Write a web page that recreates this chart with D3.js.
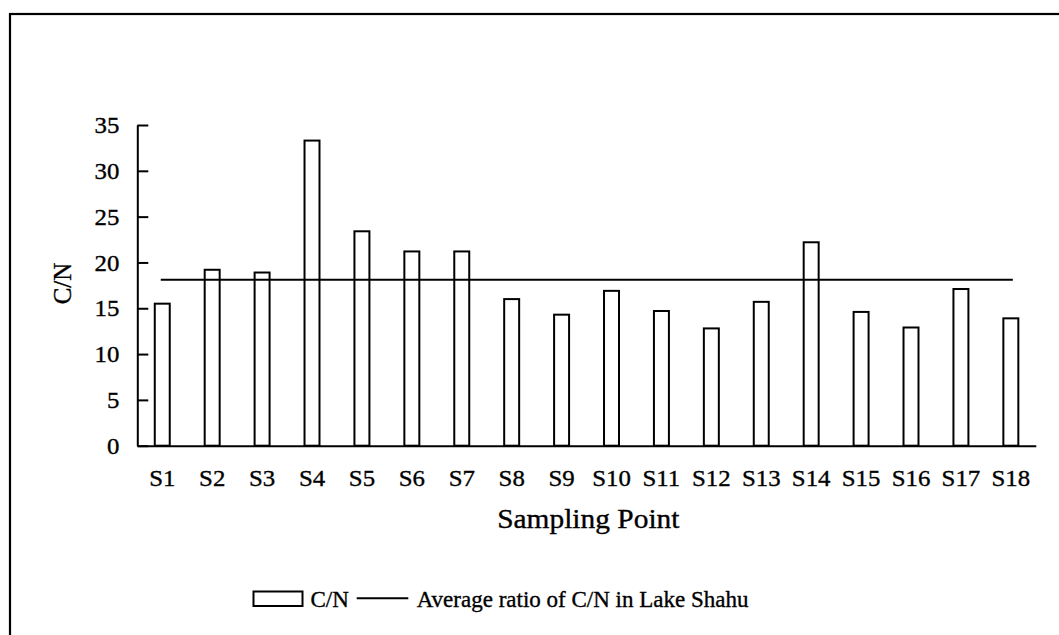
<!DOCTYPE html>
<html>
<head>
<meta charset="utf-8">
<script src="https://cdn.jsdelivr.net/npm/d3@7"></script>
<style>
  html, body { margin: 0; padding: 0; background: #fff; }
  svg { display: block; }
  text { font-family: "Liberation Serif", "Times New Roman", serif; fill: #000; stroke: #000; stroke-width: 0.35px; }
</style>
</head>
<body>
<svg id="chart" width="1059" height="635"></svg>
<script>
const categories = ["S1","S2","S3","S4","S5","S6","S7","S8","S9","S10","S11","S12","S13","S14","S15","S16","S17","S18"];
const cnValues = [15.5, 19.2, 18.9, 33.3, 23.4, 21.2, 21.2, 16.0, 14.3, 16.9, 14.7, 12.8, 15.7, 22.2, 14.6, 12.9, 17.1, 13.9];
const averageCN = 18.1;
const yTicks = [0, 5, 10, 15, 20, 25, 30, 35];
const xTitle = "Sampling Point";
const yTitle = "C/N";
const legendBar = "C/N";
const legendLine = "Average ratio of C/N in Lake Shahu";

const svg = d3.select("#chart");

// outer frame
svg.append("rect")
  .attr("x", 10).attr("y", 14).attr("width", 1100).attr("height", 700)
  .attr("fill", "none").attr("stroke", "#000").attr("stroke-width", 2.2);

const x = d3.scaleBand().domain(categories).range([137.3, 1035.8]).paddingInner(0).paddingOuter(0);
const y = d3.scaleLinear().domain([0, 35]).range([445.7, 125]);

const barW = x.bandwidth() * 0.3;

// bars
svg.append("g").selectAll("rect").data(categories).join("rect")
  .attr("x", d => x(d) + x.bandwidth() / 2 - barW / 2)
  .attr("y", (d, i) => y(cnValues[i]))
  .attr("width", barW)
  .attr("height", (d, i) => y(0) - y(cnValues[i]))
  .attr("fill", "#fff").attr("stroke", "#000").attr("stroke-width", 2);

// average line
svg.append("line")
  .attr("x1", x(categories[0]) + x.bandwidth() / 2 - 1.5)
  .attr("x2", x(categories[categories.length - 1]) + x.bandwidth() / 2 + 2)
  .attr("y1", y(averageCN)).attr("y2", y(averageCN))
  .attr("stroke", "#000").attr("stroke-width", 2);

// y axis
const yAxis = d3.axisLeft(y).tickValues(yTicks).tickSizeInner(-11).tickSizeOuter(0).tickPadding(18);
const gy = svg.append("g").attr("transform", "translate(137.3,0)").call(yAxis);
gy.select(".domain").attr("stroke", "#000").attr("stroke-width", 2);
gy.selectAll(".tick line").attr("stroke", "#000").attr("stroke-width", 2);
gy.selectAll(".tick text")
  .attr("font-family", "Liberation Serif").attr("font-size", 23)
  .attr("x", -18 / 1.08).attr("dy", "0.33em")
  .attr("transform", "scale(1.08,1)");

// x axis
const xAxis = d3.axisBottom(x).tickSize(0).tickPadding(24);
const gx = svg.append("g").attr("transform", "translate(0,445.7)").call(xAxis);
gx.select(".domain").attr("stroke", "#000").attr("stroke-width", 2);
gx.selectAll(".tick text")
  .attr("font-family", "Liberation Serif").attr("font-size", 23)
  .attr("transform", "scale(1.08,1)")
  .attr("x", 0);

// axis titles
svg.append("text")
  .attr("transform", "translate(588.3,528) scale(1.09,1)")
  .attr("text-anchor", "middle")
  .attr("font-size", 27)
  .text(xTitle);

svg.append("text")
  .attr("transform", "translate(71,283.5) rotate(-90)")
  .attr("text-anchor", "middle")
  .attr("font-size", 25)
  .text(yTitle);

// legend
const lg = svg.append("g");
lg.append("rect").attr("x", 253.5).attr("y", 591.5).attr("width", 49).attr("height", 14.5)
  .attr("fill", "#fff").attr("stroke", "#000").attr("stroke-width", 2);
lg.append("text").attr("x", 310.5).attr("y", 607).attr("font-size", 23).text(legendBar);
lg.append("line").attr("x1", 356.7).attr("x2", 408.3).attr("y1", 598.3).attr("y2", 598.3)
  .attr("stroke", "#000").attr("stroke-width", 2);
lg.append("text").attr("x", 416.7).attr("y", 607).attr("font-size", 23).text(legendLine);
</script>
</body>
</html>
